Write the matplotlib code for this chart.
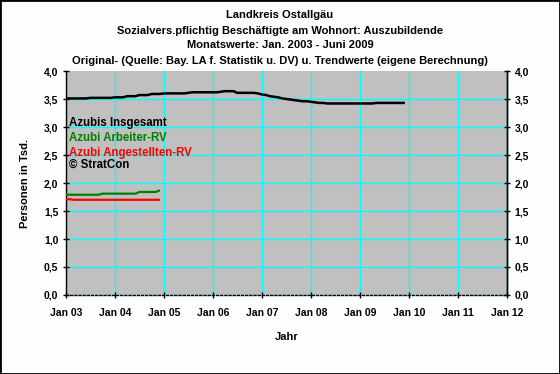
import matplotlib
matplotlib.use("Agg")
import matplotlib.pyplot as plt
import matplotlib.dates as mdates
from matplotlib.patches import Rectangle
from matplotlib.ticker import MultipleLocator, FuncFormatter
import pandas as pd
import datetime as dt

plt.rcParams['font.family'] = ['Liberation Sans', 'DejaVu Sans']

# ---- data (thousands of persons, monthly) ----
months_total = pd.date_range("2003-01-01", "2009-12-01", freq="MS")
azubis_insgesamt = [
    3.51, 3.51, 3.51, 3.51, 3.51, 3.51, 3.52, 3.52, 3.52, 3.52, 3.52, 3.52,
    3.53, 3.53, 3.53, 3.55, 3.55, 3.55, 3.57, 3.57, 3.57, 3.59, 3.59, 3.59,
    3.60, 3.60, 3.60, 3.60, 3.60, 3.60, 3.61, 3.62, 3.62, 3.62, 3.62, 3.62,
    3.62, 3.62, 3.63, 3.64, 3.64, 3.64, 3.61, 3.61, 3.61, 3.61, 3.61, 3.60,
    3.58, 3.57, 3.55, 3.54, 3.53, 3.51, 3.50, 3.49, 3.48, 3.47, 3.46, 3.46,
    3.45, 3.44, 3.43, 3.43, 3.42, 3.42, 3.42, 3.42, 3.42, 3.42, 3.42, 3.42,
    3.42, 3.42, 3.42, 3.42, 3.43, 3.43, 3.43, 3.43, 3.43, 3.43, 3.43, 3.43,
]
months_rv = pd.date_range("2003-01-01", "2004-12-01", freq="MS")
azubi_arbeiter_rv = [
    1.79, 1.79, 1.79, 1.79, 1.79, 1.79, 1.79, 1.79, 1.79, 1.81, 1.81, 1.81,
    1.81, 1.81, 1.81, 1.81, 1.81, 1.81, 1.84, 1.84, 1.84, 1.84, 1.84, 1.87,
]
azubi_angestellten_rv = [
    1.71, 1.71, 1.70, 1.70, 1.70, 1.70, 1.70, 1.70, 1.70, 1.70, 1.70, 1.70,
    1.70, 1.70, 1.70, 1.70, 1.70, 1.70, 1.70, 1.70, 1.70, 1.70, 1.70, 1.70,
]
legend_labels = ["Azubis Insgesamt", "Azubi Arbeiter-RV", "Azubi Angestellten-RV", "\u00a9 StratCon"]
legend_colors = ["#000000", "#008000", "#ff0000", "#000000"]
title_lines = [
    "Landkreis Ostallgäu",
    "Sozialvers.pflichtig Beschäftigte am Wohnort: Auszubildende",
    "Monatswerte: Jan. 2003 - Juni 2009",
    "Original- (Quelle: Bay. LA f. Statistik u. DV) u. Trendwerte (eigene Berechnung)",
]

W, H = 560, 374
fig = plt.figure(figsize=(W / 100, H / 100), dpi=100, facecolor="#fdfdfd")
L, R, T, B = 66, 507, 71, 295
ax = fig.add_axes([L / W, 1 - B / H, (R - L) / W, (B - T) / H])
ax.set_facecolor("#c0c0c0")

ax.plot(months_total, azubis_insgesamt, color="#000000", lw=1.8, solid_capstyle="butt", zorder=3)
ax.plot(months_rv, azubi_arbeiter_rv, color="#008000", lw=1.6, solid_capstyle="butt", zorder=3)
ax.plot(months_rv, azubi_angestellten_rv, color="#ff0000", lw=1.6, solid_capstyle="butt", zorder=3)

ax.set_xlim(dt.date(2003, 1, 1), dt.date(2012, 1, 1))
ax.set_ylim(0, 4.0)
ax.xaxis.set_major_locator(mdates.YearLocator())
ax.xaxis.set_major_formatter(mdates.DateFormatter("%b %y"))
ax.yaxis.set_major_locator(MultipleLocator(0.5))
fmt = FuncFormatter(lambda v, p: f"{v:.1f}".replace(".", ","))
ax.yaxis.set_major_formatter(fmt)

ax.grid(True, color="#00ffff", lw=1.0, snap=True, zorder=1)
ax.set_axisbelow(True)
fig.canvas.draw()
for gl, v in zip(ax.get_ygridlines(), ax.get_yticks()):
    if v >= 3.99:
        gl.set_visible(False)

ax.spines["top"].set_visible(False)
ax.spines["left"].set_linewidth(1.0)
ax.spines["right"].set_linewidth(1.0)
ax.spines["bottom"].set_linewidth(1.0)
ax.spines["bottom"].set_linestyle((0, (1.5, 1.5)))

ax.tick_params(axis="y", direction="inout", length=5, width=1, pad=3)
ax.tick_params(axis="x", direction="inout", length=5, width=1, pad=7)
for lab in ax.get_xticklabels() + ax.get_yticklabels():
    lab.set_fontsize(7.5)
    lab.set_fontweight("bold")

ax2 = ax.twinx()
ax2.set_ylim(0, 4.0)
ax2.yaxis.set_major_locator(MultipleLocator(0.5))
ax2.yaxis.set_major_formatter(fmt)
ax2.tick_params(axis="y", direction="inout", length=5, width=1, pad=3)
for lab in ax2.get_yticklabels():
    lab.set_fontsize(7.5)
    lab.set_fontweight("bold")
for s in ["top", "left", "bottom"]:
    ax2.spines[s].set_visible(False)
ax2.spines["right"].set_linewidth(1.0)

ax.set_ylabel("Personen in Tsd.", fontsize=8, fontweight="bold", labelpad=10)
ax.set_xlabel("Jahr", fontsize=8, fontweight="bold", labelpad=10)

# legend-like texts
ys = [123, 138, 153, 165]
for lab, col, y in zip(legend_labels, legend_colors, ys):
    fig.text(69 / W, 1 - y / H, lab, color=col, fontsize=8.3, fontweight="bold",
             ha="left", va="center")

for i, t in enumerate(title_lines):
    fig.text(0.5, 1 - (15.5 + 15 * i) / H, t, fontsize=8, fontweight="bold",
             ha="center", va="center")

fig.patches.append(Rectangle((0, 0), 1, 1, transform=fig.transFigure, fill=False,
                             edgecolor="black", lw=2.0))

fig.savefig("out.png", dpi=100, facecolor=fig.get_facecolor())
